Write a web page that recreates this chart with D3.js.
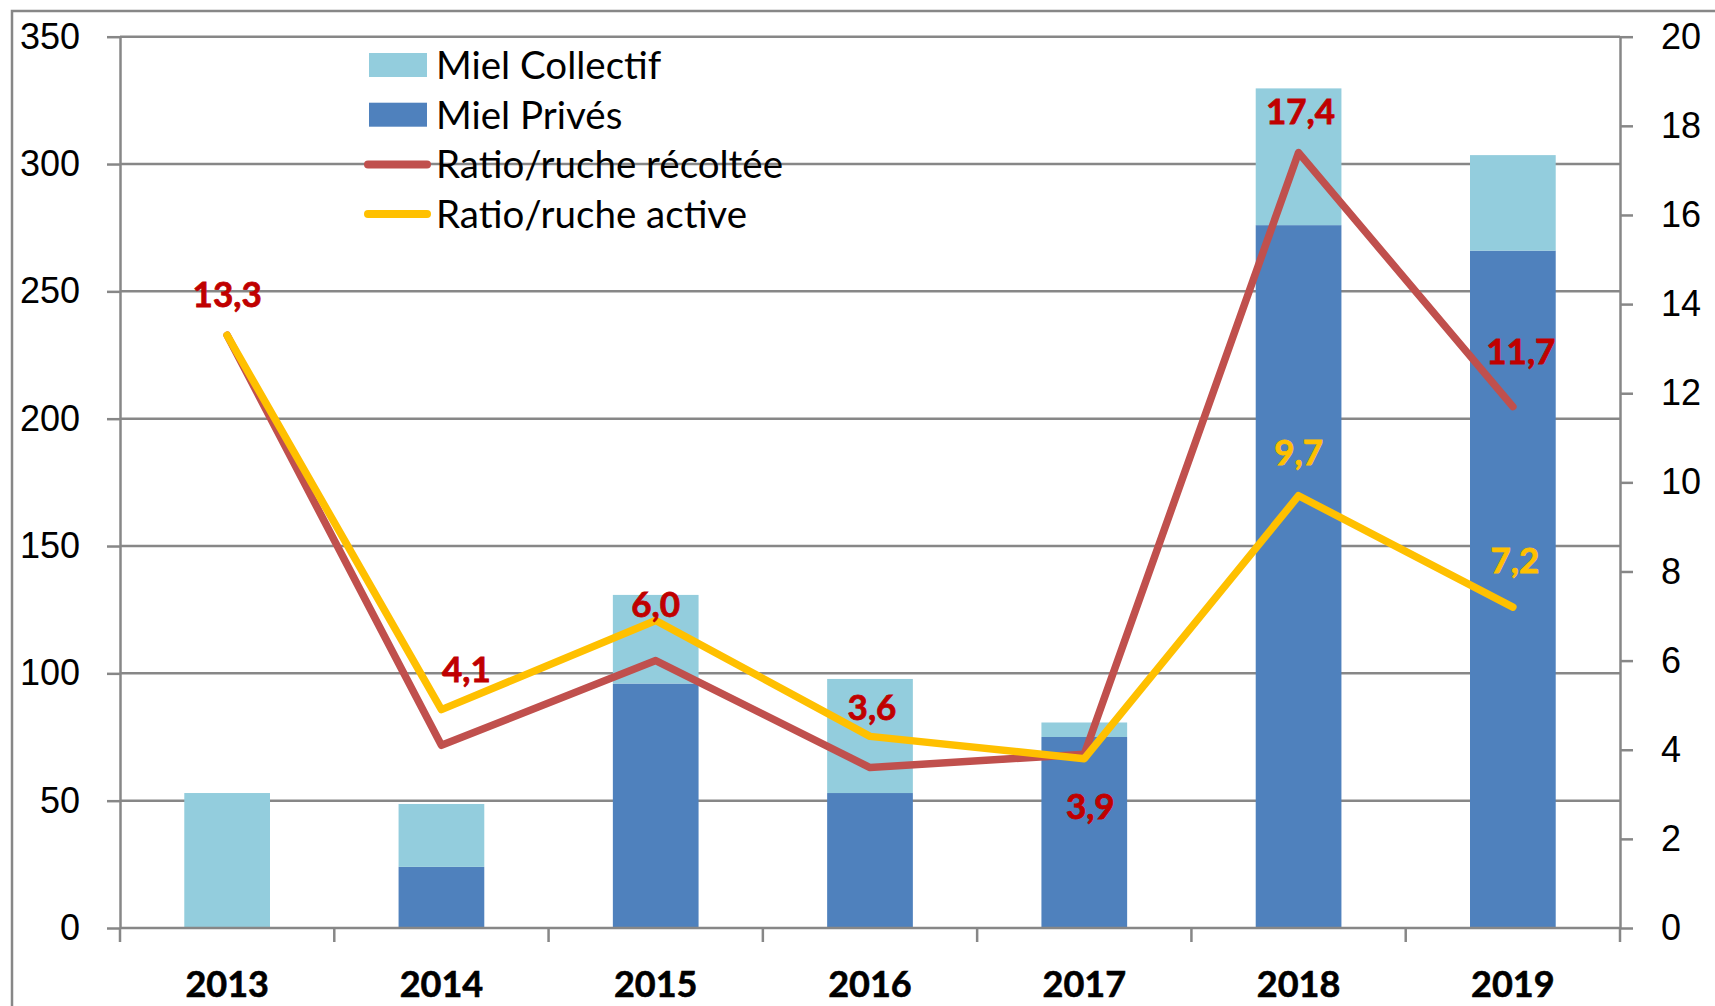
<!DOCTYPE html>
<html>
  <head>
    <meta charset="utf-8">
    <title>Miel et ratio par ruche</title>
    <script src="https://d3js.org/d3.v7.min.js"></script>
    <style>
      body { margin: 0; background: #fff; }
      svg { display: block; font-family: Lato, sans-serif; }
      .axis path, .axis line { stroke: #878787; stroke-width: 2.5px; }
      .axis text { font-size: 36px; fill: #000; }
      .grid line { stroke: #878787; stroke-width: 2.5px; }
      .x-label { font-size: 36px; font-weight: bold; fill: #000; stroke: #000; stroke-width: 0.6px; }
      .legend text { font-size: 38.5px; fill: #000; }
      .data-label { font-size: 35px; font-weight: bold; stroke-width: 0.8px; }
    </style>
  </head>
  <body>
    <svg width="1715" height="1006"></svg>
    <script>
      const years = ["2013", "2014", "2015", "2016", "2017", "2018", "2019"];
      const mielPrives = [0, 24, 96, 53, 75, 276, 266];
      const mielCollectif = [53, 24.7, 34.8, 44.8, 5.7, 53.7, 37.5];
      const ratioRecoltee = [13.3, 4.1, 6.0, 3.6, 3.9, 17.4, 11.7];
      const ratioActive = [13.3, 4.9, 6.9, 4.3, 3.8, 9.7, 7.2];
      const leftTicks = [0, 50, 100, 150, 200, 250, 300, 350];
      const rightTicks = [0, 2, 4, 6, 8, 10, 12, 14, 16, 18, 20];
      // which line points carry a label, and where it sits relative to the point
      const recolteeLabelOffsets = [[0, -28], [25, -63], [0, -44], [2, -48], [6, 65], [2, -29], [8, -43]];
      const activeLabelOffsets = [null, null, null, null, null, [0, -31], [2, -34]];

      const colors = {
        collectif: "#93CDDD",
        prives: "#4F81BD",
        recoltee: "#C0504D",
        active: "#FFC000",
        labelRed: "#C00000"
      };

      const svg = d3.select("svg");
      const plot = { left: 120, right: 1620, top: 36.7, bottom: 928 };

      // outer chart border (only top/left edges fall inside the picture)
      svg.append("rect")
        .attr("x", 12).attr("y", 11)
        .attr("width", 1760).attr("height", 1060)
        .attr("fill", "none")
        .attr("stroke", "#878787")
        .attr("stroke-width", 2.5);

      const x = d3.scaleBand()
        .domain(years)
        .range([plot.left, plot.right])
        .paddingInner(0.6)
        .paddingOuter(0.3);
      const xCenter = d => x(d) + x.bandwidth() / 2;

      const yLeft = d3.scaleLinear().domain([0, 350]).range([plot.bottom, plot.top]);
      const yRight = d3.scaleLinear().domain([0, 20]).range([plot.bottom, plot.top]);

      // gridlines
      svg.append("g")
        .attr("class", "grid")
        .selectAll("line")
        .data(leftTicks.filter(d => d > 0))
        .join("line")
          .attr("x1", plot.left).attr("x2", plot.right)
          .attr("y1", d => yLeft(d)).attr("y2", d => yLeft(d));

      // stacked bars
      const stackData = years.map((y, i) => ({ year: y, prives: mielPrives[i], collectif: mielCollectif[i] }));
      const stack = d3.stack().keys(["prives", "collectif"])(stackData);
      svg.append("g")
        .selectAll("g")
        .data(stack)
        .join("g")
          .attr("fill", s => colors[s.key])
        .selectAll("rect")
        .data(s => s)
        .join("rect")
          .attr("x", d => x(d.data.year))
          .attr("width", x.bandwidth())
          .attr("y", d => yLeft(d[1]))
          .attr("height", d => yLeft(d[0]) - yLeft(d[1]));

      // axes
      svg.append("g")
        .attr("class", "axis")
        .attr("transform", `translate(${plot.left},0)`)
        .call(d3.axisLeft(yLeft).tickValues(leftTicks).tickSize(13).tickSizeOuter(0).tickPadding(27));

      svg.append("g")
        .attr("class", "axis")
        .attr("transform", `translate(${plot.right},0)`)
        .call(d3.axisRight(yRight).tickValues(rightTicks).tickSize(13).tickSizeOuter(0).tickPadding(28));

      // x axis baseline with ticks between categories
      const xAxisG = svg.append("g").attr("class", "axis");
      xAxisG.append("line")
        .attr("x1", plot.left).attr("x2", plot.right)
        .attr("y1", plot.bottom).attr("y2", plot.bottom);
      const boundaries = d3.range(years.length + 1).map(i => plot.left + i * x.step());
      xAxisG.selectAll(".bound")
        .data(boundaries)
        .join("line")
          .attr("class", "bound")
          .attr("x1", d => d).attr("x2", d => d)
          .attr("y1", plot.bottom).attr("y2", plot.bottom + 14);
      svg.append("g")
        .selectAll("text")
        .data(years)
        .join("text")
          .attr("class", "x-label")
          .attr("x", xCenter)
          .attr("y", 997)
          .attr("text-anchor", "middle")
          .text(d => d);

      // lines
      const line = yScale => d3.line()
        .x((d, i) => xCenter(years[i]))
        .y(d => yScale(d));

      svg.append("path")
        .datum(ratioRecoltee)
        .attr("d", line(yRight))
        .attr("fill", "none")
        .attr("stroke", colors.recoltee)
        .attr("stroke-width", 7.5)
        .attr("stroke-linejoin", "round")
        .attr("stroke-linecap", "round");

      svg.append("path")
        .datum(ratioActive)
        .attr("d", line(yRight))
        .attr("fill", "none")
        .attr("stroke", colors.active)
        .attr("stroke-width", 7.5)
        .attr("stroke-linejoin", "round")
        .attr("stroke-linecap", "round");

      const fmt = v => d3.format(".1f")(v).replace(".", ",");

      svg.append("g")
        .selectAll("text")
        .data(ratioRecoltee)
        .join("text")
          .attr("class", "data-label")
          .attr("fill", colors.labelRed)
          .attr("stroke", colors.labelRed)
          .attr("text-anchor", "middle")
          .attr("x", (d, i) => xCenter(years[i]) + recolteeLabelOffsets[i][0])
          .attr("y", (d, i) => yRight(d) + recolteeLabelOffsets[i][1])
          .text(fmt);

      svg.append("g")
        .selectAll("text")
        .data(ratioActive.map((v, i) => ({ v, i })).filter(d => activeLabelOffsets[d.i]))
        .join("text")
          .attr("class", "data-label")
          .attr("fill", colors.active)
          .attr("stroke", colors.active)
          .attr("text-anchor", "middle")
          .attr("x", d => xCenter(years[d.i]) + activeLabelOffsets[d.i][0])
          .attr("y", d => yRight(d.v) + activeLabelOffsets[d.i][1])
          .text(d => fmt(d.v));

      // legend
      const legend = svg.append("g").attr("class", "legend");
      const legendItems = [
        { label: "Miel Collectif", type: "rect", color: colors.collectif },
        { label: "Miel Privés", type: "rect", color: colors.prives },
        { label: "Ratio/ruche récoltée", type: "line", color: colors.recoltee },
        { label: "Ratio/ruche active", type: "line", color: colors.active }
      ];
      const legendRow = legend.selectAll("g")
        .data(legendItems)
        .join("g")
          .attr("transform", (d, i) => `translate(0, ${65 + i * 49.7})`);
      legendRow.filter(d => d.type === "rect")
        .append("rect")
          .attr("x", 369).attr("y", -12)
          .attr("width", 58).attr("height", 24)
          .attr("fill", d => d.color);
      legendRow.filter(d => d.type === "line")
        .append("line")
          .attr("x1", 368).attr("x2", 427)
          .attr("y1", 0).attr("y2", 0)
          .attr("stroke", d => d.color)
          .attr("stroke-width", 8)
          .attr("stroke-linecap", "round");
      legendRow.append("text")
        .attr("x", 436)
        .attr("y", 14)
        .text(d => d.label);
    </script>
  </body>
</html>
